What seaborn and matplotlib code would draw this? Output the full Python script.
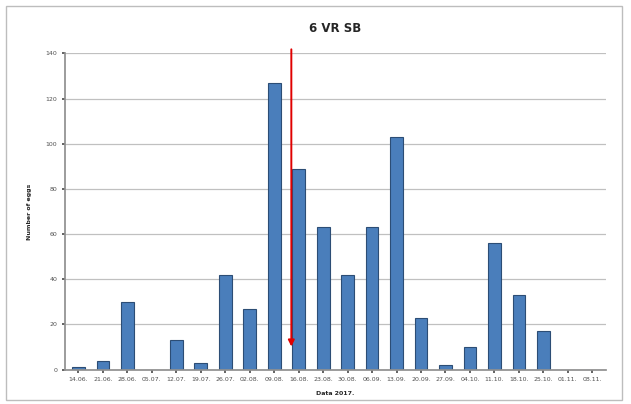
import matplotlib
matplotlib.use("Agg")
import matplotlib.pyplot as plt
import seaborn as sns
import pandas as pd

dates = ["14.06.", "21.06.", "28.06.", "05.07.", "12.07.", "19.07.", "26.07.",
         "02.08.", "09.08.", "16.08.", "23.08.", "30.08.", "06.09.", "13.09.",
         "20.09.", "27.09.", "04.10.", "11.10.", "18.10.", "25.10.", "01.11.",
         "08.11."]
eggs = [1, 4, 30, 0, 13, 3, 42, 27, 127, 89, 63, 42, 63, 103, 23, 2, 10, 56,
        33, 17, 0, 0]
y_ticks = [0, 20, 40, 60, 80, 100, 120, 140]
arrow_pos = 8.7      # between 09.08. and 16.08.
arrow_tip = 9

df = pd.DataFrame({"date": dates, "eggs": eggs})

sns.set_theme(style="white")
fig, ax = plt.subplots(figsize=(6.31, 4.04), dpi=100)
fig.subplots_adjust(left=0.103, right=0.96, top=0.868, bottom=0.085)

sns.barplot(data=df, x="date", y="eggs", color="#4a7ebb", edgecolor="#2c4d75",
            linewidth=0.8, width=0.52, saturation=1, ax=ax)

# Excel-like horizontal gridlines
ax.set_ylim(0, 140)
ax.set_yticks(y_ticks)
ax.yaxis.grid(True, color="#c0c0c0", linewidth=0.9)
ax.set_axisbelow(True)
ax.set_xlim(-0.55, len(dates) - 0.45)
for side in ["top", "right"]:
    ax.spines[side].set_visible(False)
ax.spines["left"].set_color("#909090")
ax.spines["bottom"].set_color("#909090")
ax.tick_params(axis="both", labelsize=4.5, colors="#505050", length=2,
               left=True, bottom=True)

ax.set_xlabel("Data 2017.", fontsize=4.5, fontweight="bold", labelpad=6)
ax.set_ylabel("Number of eggs", fontsize=4.5, fontweight="bold", labelpad=10)
ax.set_title("6 VR SB", fontsize=8.5, fontweight="bold", pad=15)

# red arrow marking the event
ax.annotate("", xy=(arrow_pos, arrow_tip), xytext=(arrow_pos, 143),
            annotation_clip=False,
            arrowprops=dict(arrowstyle="-|>", color="#e00000", lw=1.4,
                            mutation_scale=9))

# outer frame
fig.patches.append(plt.Rectangle((0.01, 0.01), 0.975, 0.975, fill=False,
                                 edgecolor="#bdbdbd", linewidth=1,
                                 transform=fig.transFigure))

fig.savefig("out.png", dpi=100)
